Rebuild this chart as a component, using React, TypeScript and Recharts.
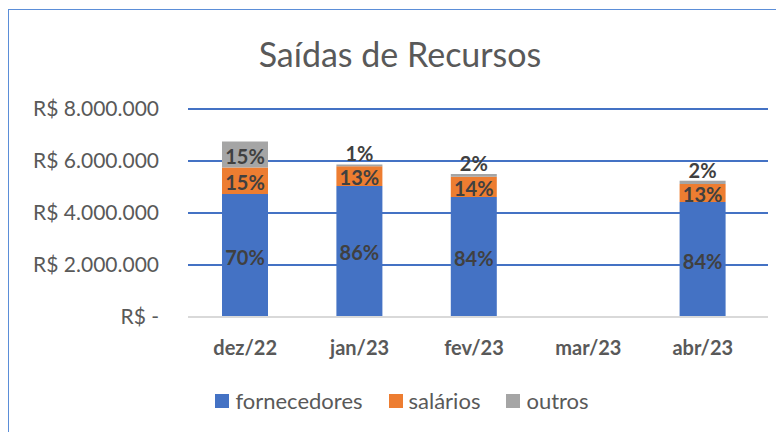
import { BarChart, Bar, XAxis, YAxis, CartesianGrid, Legend, LabelList } from "recharts";

// Months on the category axis.
const months = ["dez/22", "jan/23", "fev/23", "mar/23", "abr/23"];

// Values per series (R$). mar/23 has no data.
const fornecedores = [4730000, 5040000, 4620000, null, 4420000];
const salarios = [1020000, 760000, 770000, null, 700000];
const outros = [1000000, 70000, 110000, null, 120000];

const yTicks = [0, 2000000, 4000000, 6000000, 8000000];

const seriesKeys = ["fornecedores", "salarios", "outros"];
const seriesNames = ["fornecedores", "salários", "outros"];
const seriesColors = ["#4472C4", "#ED7D31", "#A5A5A5"];

const data = months.map((m, i) => ({
  month: m,
  fornecedores: fornecedores[i],
  salarios: salarios[i],
  outros: outros[i],
}));

const FONT = "Lato, 'Liberation Sans', sans-serif";

const formatBRL = (v: number) =>
  v === 0 ? "R$ -" : "R$ " + String(v).replace(/\B(?=(\d{3})+(?!\d))/g, ".");

// share of the month total, as the label text
const pctOf = (key: string) => (d: any) => {
  const v = d[key];
  if (v == null) return null;
  const total = (d.fornecedores ?? 0) + (d.salarios ?? 0) + (d.outros ?? 0);
  return Math.round((v / total) * 100) + "%";
};

// Percentage label: centred in the segment, above the bar when the segment is tiny.
const pctLabel = (props: any) => {
  const { x, y, width, height, value } = props;
  if (value == null) return null;
  const cx = Number(x) + Number(width) / 2;
  const cy = Number(height) < 14 ? Number(y) - 11 : Number(y) + Number(height) / 2 + 1;
  return (
    <text
      x={cx}
      y={cy}
      textAnchor="middle"
      dominantBaseline="central"
      fill="#404040"
      fontFamily={FONT}
      fontWeight="bold"
      fontSize={20}
    >
      {value}
    </text>
  );
};

const renderLegend = () => (
  <div
    style={{
      display: "flex",
      justifyContent: "center",
      alignItems: "center",
      fontFamily: FONT,
      fontSize: 22,
      color: "#595959",
      paddingLeft: 28,
    }}
  >
    {seriesNames.map((n, i) => (
      <div key={n} style={{ display: "flex", alignItems: "center", marginRight: i < 2 ? 26 : 0 }}>
        <span style={{ width: 14, height: 14, background: seriesColors[i], marginRight: 6 }} />
        <span>{n}</span>
      </div>
    ))}
  </div>
);

export default function App() {
  return (
    <div style={{ position: "absolute", left: 0, top: 0, width: 776, height: 432, overflow: "hidden", background: "#fff" }}>
      {/* chart frame, cut off at the right and bottom like the source */}
      <div
        style={{
          position: "absolute",
          left: 8,
          top: 9,
          width: 820,
          height: 480,
          border: "1.5px solid #5B8ED8",
        }}
      />
      <div
        style={{
          position: "absolute",
          left: 0,
          width: 800,
          top: 35,
          textAlign: "center",
          fontFamily: FONT,
          fontSize: 34,
          lineHeight: "38px",
          color: "#595959",
        }}
      >
        Saídas de Recursos
      </div>
      <div style={{ position: "absolute", left: 0, top: 0 }}>
        <BarChart
          width={776}
          height={432}
          data={data}
          margin={{ top: 109, right: 8, bottom: 58, left: 0 }}
          barSize={46}
        >
          <CartesianGrid vertical={false} stroke="#4472C4" strokeWidth={2} />
          <XAxis
            dataKey="month"
            axisLine={{ stroke: "#D9D9D9", strokeWidth: 2 }}
            tickLine={false}
            tickMargin={18}
            padding={{ left: 0, right: 8 }}
            tick={{ fill: "#595959", fontFamily: FONT, fontSize: 20, fontWeight: "bold" }}
          />
          <YAxis
            width={188}
            domain={[0, 8000000]}
            ticks={yTicks}
            axisLine={false}
            tickLine={false}
            tickMargin={23}
            tickFormatter={formatBRL}
            tick={{ fill: "#595959", fontFamily: FONT, fontSize: 21 }}
          />
          <Legend content={renderLegend} wrapperStyle={{ top: 387, left: 0, width: 776 }} />
          {seriesKeys.map((k, i) => (
            <Bar key={k} dataKey={k} name={seriesNames[i]} stackId="a" fill={seriesColors[i]} isAnimationActive={false}>
              <LabelList dataKey={pctOf(k)} content={pctLabel} />
            </Bar>
          ))}
        </BarChart>
      </div>
    </div>
  );
}
